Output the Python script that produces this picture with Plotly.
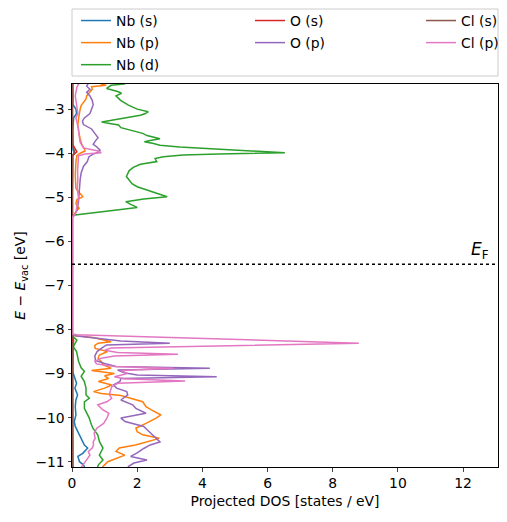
import plotly.graph_objects as go

# ---------------- data (energy in eV vs vacuum, DOS in states/eV) ----------------
nb_s_E = [-2.35, -2.9, -3.0, -3.1, -3.2, -3.5, -3.93, -4.0, -4.06, -5.0, -5.42, -5.48,
          -8.1, -8.5, -8.95, -9.0, -9.1, -9.22, -9.33, -9.485, -9.6, -9.75, -9.94, -10.09,
          -10.2, -10.32, -10.47, -10.62, -10.69, -10.81, -10.88, -11.0, -11.07, -11.15, -11.25]
nb_s_dos = [0.03, 0.03, 0.12, 0.14, 0.05, 0.02, 0.03, 0.08, 0.02, 0.02, 0.01, 0.0,
            0.0, 0.01, 0.02, 0.04, 0.09, 0.14, 0.09, 0.17, 0.12, 0.10, 0.12, 0.07,
            0.10, 0.17, 0.28, 0.38, 0.48, 0.33, 0.18, 0.23, 0.35, 0.40, 0.38]

nb_p_E = [-2.35, -2.43, -2.46, -2.49, -2.55, -2.62, -2.70, -2.77, -2.85, -2.92, -3.0, -3.1,
          -3.22, -3.35, -3.5, -3.67, -3.8, -3.9, -3.95, -4.0, -4.05, -4.2, -4.5, -4.8, -4.95,
          -4.99, -5.05, -5.15, -5.25, -5.3, -5.4, -5.46,
          -8.1, -8.14, -8.18, -8.24, -8.28, -8.31, -8.36, -8.43, -8.5, -8.58, -8.65, -8.73,
          -8.8, -8.88, -8.93, -9.0, -9.05, -9.11, -9.18, -9.26, -9.33, -9.41, -9.45, -9.5,
          -9.56, -9.64, -9.75, -9.82, -9.94, -10.01, -10.13, -10.24, -10.32, -10.39, -10.47,
          -10.54, -10.62, -10.69, -10.77, -10.85, -10.92, -11.0, -11.11, -11.25]
nb_p_dos = [0.7, 0.9, 1.05, 0.6, 0.62, 0.55, 0.45, 0.43, 0.35, 0.28, 0.25, 0.22,
            0.2, 0.18, 0.2, 0.25, 0.3, 0.38, 0.4, 0.25, 0.15, 0.12, 0.1, 0.12, 0.3,
            0.33, 0.15, 0.12, 0.22, 0.15, 0.05, 0.0,
            0.0, 0.1, 0.65, 1.0, 1.2, 0.8, 0.7, 0.71, 1.09, 0.84, 0.8, 0.9,
            0.95, 1.2, 0.6, 1.3, 1.0, 1.12, 0.81, 1.22, 1.0, 0.66, 0.9, 1.5,
            1.8, 2.17, 2.27, 2.42, 2.73, 2.58, 2.27, 1.96, 2.0, 2.17, 2.68,
            2.37, 1.95, 1.45, 1.35, 1.62, 1.37, 1.1, 0.95, 0.85]

nb_d_E = [-2.35, -2.43, -2.46, -2.53, -2.60, -2.64, -2.70, -2.80, -2.91, -3.0, -3.06, -3.10,
          -3.14, -3.20, -3.29, -3.33, -3.36, -3.42, -3.48, -3.55, -3.60, -3.67, -3.71, -3.74,
          -3.78, -3.82, -3.86, -3.89, -3.95, -3.99, -4.02, -4.04, -4.08, -4.12, -4.19, -4.25,
          -4.32, -4.40, -4.53, -4.60, -4.69, -4.76, -4.84, -4.92, -4.99, -5.04, -5.10, -5.16,
          -5.23, -5.28, -5.33, -5.37, -5.40, -5.45,
          -8.1, -8.16, -8.24, -8.39, -8.5, -8.57, -8.72, -8.87, -8.95, -9.06, -9.18, -9.33,
          -9.485, -9.56, -9.64, -9.79, -9.9, -10.01, -10.13, -10.24, -10.39, -10.54, -10.69,
          -10.85, -10.96, -11.07, -11.19, -11.25]
nb_d_dos = [1.8, 1.6, 1.2, 1.06, 1.40, 1.52, 1.35, 1.49, 1.73, 2.0, 2.34, 2.25,
            2.10, 1.6, 0.91, 1.2, 1.43, 1.5, 1.78, 2.17, 2.3, 2.70, 2.4, 2.22,
            2.5, 2.70, 3.3, 4.13, 5.5, 6.53, 4.5, 3.41, 2.8, 2.55, 2.6, 2.1,
            1.88, 1.75, 1.67, 1.75, 1.84, 2.0, 2.30, 2.6, 2.92, 2.2, 1.65, 1.8,
            2.0, 1.5, 0.98, 0.5, 0.09, 0.0,
            0.0, 0.03, 0.15, 0.04, 0.14, 0.16, 0.2, 0.28, 0.38, 0.28, 0.38, 0.43,
            0.43, 0.53, 0.38, 0.38, 0.45, 0.53, 0.58, 0.64, 0.79, 0.84, 0.95,
            0.84, 0.95, 0.81, 0.75, 0.72]

o_s_E = [-2.35, -3.8, -3.93, -3.97, -4.05, -5.45, -8.1, -8.3, -9.0, -10.0, -11.25]
o_s_dos = [0.01, 0.02, 0.12, 0.15, 0.02, 0.0, 0.0, 0.03, 0.02, 0.03, 0.03]

o_p_E = [-2.35, -2.43, -2.48, -2.55, -2.62, -2.7, -2.8, -2.9, -3.0, -3.1, -3.2, -3.27,
         -3.35, -3.45, -3.55, -3.65, -3.72, -3.8, -3.85, -3.93, -3.98, -4.02, -4.08, -4.19,
         -4.3, -4.45, -4.6, -4.9, -5.1, -5.3, -5.4, -5.46,
         -8.1, -8.14, -8.2, -8.26, -8.31, -8.35, -8.43, -8.5, -8.6, -8.7, -8.77, -8.84,
         -8.88, -8.92, -8.98, -9.03, -9.07, -9.11, -9.18, -9.26, -9.33, -9.41, -9.485, -9.6,
         -9.71, -9.79, -9.9, -10.01, -10.09, -10.2, -10.32, -10.47, -10.55, -10.62, -10.7,
         -10.8, -10.88, -10.96, -11.03, -11.11, -11.25]
o_p_dos = [0.55, 0.5, 0.45, 0.55, 0.45, 0.55, 0.62, 0.65, 0.6, 0.55, 0.38, 0.32,
           0.35, 0.6, 0.7, 0.8, 0.72, 0.65, 0.75, 0.86, 0.8, 0.65, 0.52, 0.47,
           0.35, 0.28, 0.25, 0.22, 0.2, 0.15, 0.08, 0.0,
           0.0, 0.1, 0.9, 1.5, 3.0, 1.06, 0.9, 0.77, 0.7, 0.72, 1.0, 1.35,
           4.23, 1.4, 1.6, 2.0, 4.44, 1.5, 1.47, 1.27, 1.37, 1.68, 1.71, 1.5,
           1.86, 1.96, 2.27, 1.5, 1.63, 2.2, 2.37, 2.58, 2.7, 2.4, 2.2,
           2.0, 1.8, 2.3, 1.9, 1.73, 1.7]

cl_s_E = [-2.35, -3.85, -3.95, -4.05, -5.45, -8.1, -8.25, -8.4, -9.0, -10.0, -11.25]
cl_s_dos = [0.01, 0.02, 0.08, 0.02, 0.0, 0.0, 0.05, 0.02, 0.02, 0.02, 0.02]

cl_p_E = [-2.35, -2.43, -2.5, -2.6, -2.7, -2.8, -2.95, -3.1, -3.2, -3.3, -3.45, -3.6,
          -3.75, -3.88, -3.95, -3.99, -4.02, -4.06, -4.2, -4.4, -4.6, -4.8, -5.0, -5.2,
          -5.35, -5.42, -5.46,
          -8.1, -8.12, -8.31, -8.42, -8.47, -8.52, -8.56, -8.6, -8.65, -8.72, -8.78, -8.84,
          -8.88, -8.93, -9.0, -9.07, -9.12, -9.17, -9.22, -9.3, -9.41, -9.485, -9.56, -9.64,
          -9.71, -9.82, -9.9, -10.01, -10.13, -10.24, -10.35, -10.47, -10.55, -10.62, -10.69,
          -10.77, -10.85, -10.96, -11.07, -11.15, -11.25]
cl_p_dos = [0.2, 0.2, 0.15, 0.12, 0.1, 0.12, 0.15, 0.18, 0.12, 0.15, 0.2, 0.22,
            0.25, 0.35, 0.8, 0.9, 0.4, 0.2, 0.18, 0.17, 0.18, 0.16, 0.2, 0.15,
            0.12, 0.05, 0.0,
            0.0, 0.15, 8.8, 1.2, 1.0, 1.4, 3.25, 1.3, 0.9, 0.7, 0.75, 1.3,
            3.1, 1.5, 1.7, 1.3, 1.6, 3.47, 1.4, 1.22, 1.17, 1.15, 1.22, 1.07,
            0.79, 0.94, 1.13, 1.07, 0.97, 0.76, 0.68, 0.71, 0.65, 0.66, 0.62,
            0.5, 0.55, 0.45, 0.35, 0.26, 0.22]

fermi_level = -6.52
series_names = ["Nb (s)", "Nb (p)", "Nb (d)", "O (s)", "O (p)", "Cl (s)", "Cl (p)"]
x_ticks = [0, 2, 4, 6, 8, 10, 12]
y_ticks = [-3, -4, -5, -6, -7, -8, -9, -10, -11]

# ---------------- figure ----------------
series = [
    (nb_s_E, nb_s_dos, "#1f77b4", "legend"),
    (nb_p_E, nb_p_dos, "#ff7f0e", "legend"),
    (nb_d_E, nb_d_dos, "#2ca02c", "legend"),
    (o_s_E, o_s_dos, "#d62728", "legend2"),
    (o_p_E, o_p_dos, "#9467bd", "legend2"),
    (cl_s_E, cl_s_dos, "#8c564b", "legend3"),
    (cl_p_E, cl_p_dos, "#e377c2", "legend3"),
]

fig = go.Figure()
for name, (E, dos, col, leg) in zip(series_names, series):
    fig.add_trace(go.Scatter(x=dos, y=E, mode="lines", name=name, legendgroup=name,
                             line=dict(color=col, width=1.5), legend=leg))

W = 426.0
H = 383.0
fs = 13.9
leg_common = dict(xanchor="left", yanchor="top", bgcolor="rgba(0,0,0,0)",
                  borderwidth=0, tracegroupgap=1, font=dict(size=fs),
                  orientation="v")
leg_top = 1 + 79 / H
fig.update_layout(
    width=507, height=522,
    margin=dict(l=72, r=9, t=84, b=55, autoexpand=False),
    plot_bgcolor="white", paper_bgcolor="white",
    font=dict(family="DejaVu Sans", size=fs, color="black"),
    legend=dict(x=4 / W, y=leg_top, **leg_common),
    legend2=dict(x=178 / W, y=leg_top, **leg_common),
    legend3=dict(x=349 / W, y=leg_top, **leg_common),
    xaxis=dict(range=[0, 13.07], tickvals=x_ticks, ticks="outside", ticklen=3.5,
               tickwidth=0.8, showline=True, linecolor="black", linewidth=1,
               mirror=True, showgrid=False, zeroline=False, automargin=False,
               tickfont=dict(size=fs),
               title=dict(text="Projected DOS [states / eV]", standoff=6,
                          font=dict(size=fs))),
    yaxis=dict(range=[-11.12, -2.43], tickvals=y_ticks, ticks="outside", ticklen=3.5,
               tickwidth=0.8, showline=True, linecolor="black", linewidth=1,
               mirror=True, showgrid=False, zeroline=False, automargin=False,
               tickfont=dict(size=fs),
               title=dict(text="<i>E</i> − <i>E</i><sub>vac</sub> [eV]", standoff=6,
                          font=dict(size=fs))),
    shapes=[
        dict(type="line", xref="paper", x0=0, x1=1, yref="y", y0=fermi_level, y1=fermi_level,
             line=dict(color="black", width=1.5, dash="dot")),
        dict(type="rect", xref="paper", yref="paper", x0=0.0, x1=1.0,
             y0=1 + 8 / H, y1=1 + 75 / H, line=dict(color="#cccccc", width=1)),
    ],
    annotations=[
        dict(x=12.87, y=fermi_level, xref="x", yref="y", xanchor="right", yanchor="bottom",
             text="<i>E</i><sub>F</sub>", showarrow=False, font=dict(size=17), yshift=0),
    ],
)

fig.write_html("out.html", config={"displayModeBar": False},
               post_script="document.body.style.margin='0';")
